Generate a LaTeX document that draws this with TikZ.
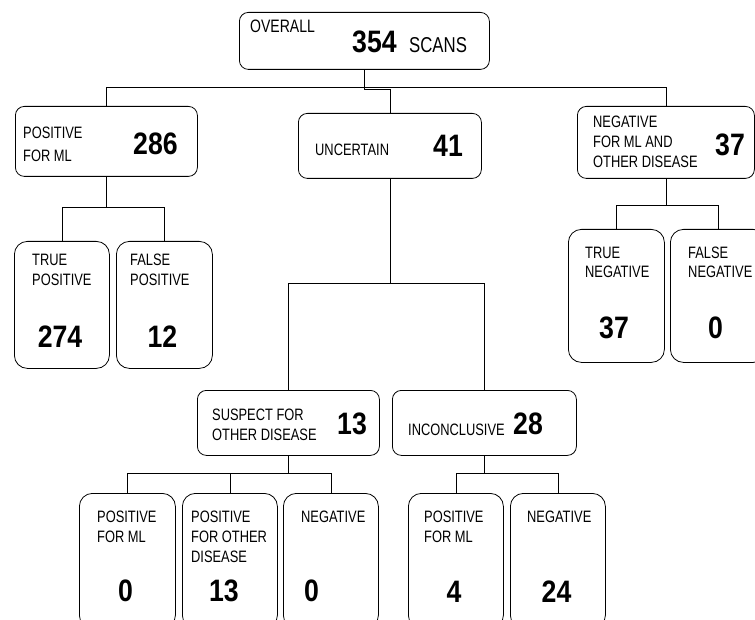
\documentclass[tikz,border=0pt]{standalone}
\usepackage{fontspec}
\usetikzlibrary{calc}
\newfontfamily\lblfont[FakeStretch=0.78]{Liberation Sans}
\newfontfamily\numfont[FakeStretch=0.86]{Liberation Sans}
\begin{document}
\begin{tikzpicture}[x=1pt,y=-1pt,
  box/.style={draw, line width=0.8pt, rounded corners=9pt, inner sep=0pt, anchor=north west},
  tall/.style={box, rounded corners=13pt},
  lbl/.style={inner sep=0pt, anchor=base west, font=\lblfont\fontsize{16.5}{19}\selectfont},
  biglbl/.style={inner sep=0pt, anchor=base west, font=\lblfont\fontsize{18}{21}\selectfont},
  scans/.style={inner sep=0pt, anchor=base west, font=\lblfont\fontsize{21.5}{24}\selectfont},
  num/.style={inner sep=0pt, anchor=base west, font=\numfont\bfseries\fontsize{31}{33}\selectfont},
  cnum/.style={num, anchor=base},
  conn/.style={line width=0.8pt}]
\useasboundingbox (0,0) rectangle (755,620);
\fill[white] (0,0) rectangle (755,620);
\clip (0,0) rectangle (755,620);

% ---- boxes ----
\node[box, minimum width=250pt, minimum height=57pt] (top) at (239,12) {};
\node[box, minimum width=182pt, minimum height=70pt] (pos) at (15,106) {};
\node[box, minimum width=183pt, minimum height=65pt] (unc) at (298,113) {};
\node[box, minimum width=177pt, minimum height=72pt] (neg) at (577,106) {};
\node[tall, minimum width=95pt, minimum height=127pt] (tp) at (14,241) {};
\node[tall, minimum width=96pt, minimum height=127pt] (fp) at (116,241) {};
\node[tall, minimum width=96pt, minimum height=133pt] (tn) at (568,229) {};
\node[tall, minimum width=96pt, minimum height=133pt] (fn) at (670,229) {};
\node[box, minimum width=182pt, minimum height=65pt] (sus) at (197,390) {};
\node[box, minimum width=184pt, minimum height=65pt] (inc) at (392,390) {};
\node[tall, minimum width=96pt, minimum height=135pt] (s1) at (79,493) {};
\node[tall, minimum width=95pt, minimum height=135pt] (s2) at (182,493) {};
\node[tall, minimum width=95pt, minimum height=135pt] (s3) at (283,493) {};
\node[tall, minimum width=95pt, minimum height=135pt] (i1) at (408,493) {};
\node[tall, minimum width=95pt, minimum height=135pt] (i2) at (510,493) {};

% ---- connectors ----
\coordinate (bus0) at ($(top.south)+(0,18)$);
\draw[conn] (pos.north) |- (bus0) -| (neg.north);
\draw[conn] (top.south) -- ++(0,20) -| (unc.north);
\coordinate (busp) at ($(pos.south)+(0,31)$);
\draw[conn] (pos.south) -- (busp);
\draw[conn] (tp.north) |- (busp) -| (fp.north);
\coordinate (busn) at ($(neg.south)+(0,27)$);
\draw[conn] (neg.south) -- (busn);
\draw[conn] (tn.north) |- (busn) -| (fn.north);
\coordinate (busu) at ($(unc.south)+(0,105)$);
\draw[conn] (unc.south) -- (busu);
\draw[conn] (sus.north) |- (busu) -| (inc.north);
\coordinate (buss) at ($(sus.south)+(0,18)$);
\draw[conn] (sus.south) -- (buss);
\draw[conn] (s1.north) |- (buss) -| (s3.north);
\draw[conn] (s2.north) -- (s2.north |- buss);
\coordinate (busi) at ($(inc.south)+(0,18)$);
\draw[conn] (inc.south) -- (busi);
\draw[conn] (i1.north) |- (busi) -| (i2.north);

% ---- texts ----
\node[biglbl] (tOverall) at (250,33) {OVERALL};
\node[num] (tTotal) at (352,53) {354};
\node[scans] (tScans) at (409,53) {SCANS};

\node[lbl] (tPos1) at (23,139) {POSITIVE};
\node[lbl] (tPos2) at (23,162) {FOR ML};
\node[num] (nPos) at (133,155) {286};

\node[lbl] (tUnc) at (315,156) {UNCERTAIN};
\node[num] (nUnc) at (433,157) {41};

\node[lbl] (tNeg1) at (593,128) {NEGATIVE};
\node[lbl] (tNeg2) at (593,148) {FOR ML AND};
\node[lbl] (tNeg3) at (593,168) {OTHER DISEASE};
\node[num] (nNeg) at (715,156) {37};

\node[lbl] (tTp1) at (32,266) {TRUE};
\node[lbl] (tTp2) at (32,286) {POSITIVE};
\node[cnum] (nTp) at (60,347) {274};
\node[lbl] (tFp1) at (130,266) {FALSE};
\node[lbl] (tFp2) at (130,286) {POSITIVE};
\node[cnum] (nFp) at (162.5,347) {12};

\node[lbl] (tTn1) at (585,259) {TRUE};
\node[lbl] (tTn2) at (585,278) {NEGATIVE};
\node[cnum] (nTn) at (614,338) {37};
\node[lbl] (tFn1) at (688,259) {FALSE};
\node[lbl] (tFn2) at (688,278) {NEGATIVE};
\node[cnum] (nFn) at (715.5,338) {0};

\node[lbl] (tSus1) at (212,420) {SUSPECT FOR};
\node[lbl] (tSus2) at (212,440) {OTHER DISEASE};
\node[num] (nSus) at (337,434) {13};
\node[lbl] (tInc) at (408,435) {INCONCLUSIVE};
\node[num] (nInc) at (513,434) {28};

\node[lbl] (tS11) at (97,522) {POSITIVE};
\node[lbl] (tS12) at (97,542) {FOR ML};
\node[cnum] (nS1) at (125.5,601) {0};
\node[lbl] (tS21) at (191,522) {POSITIVE};
\node[lbl] (tS22) at (191,542) {FOR OTHER};
\node[lbl] (tS23) at (191,562) {DISEASE};
\node[cnum] (nS2) at (224,601) {13};
\node[lbl] (tS31) at (301,522) {NEGATIVE};
\node[cnum] (nS3) at (311.5,601) {0};

\node[lbl] (tI11) at (424,522) {POSITIVE};
\node[lbl] (tI12) at (424,542) {FOR ML};
\node[cnum] (nI1) at (454,602) {4};
\node[lbl] (tI21) at (527,522) {NEGATIVE};
\node[cnum] (nI2) at (556.5,602) {24};
\end{tikzpicture}
\end{document}
